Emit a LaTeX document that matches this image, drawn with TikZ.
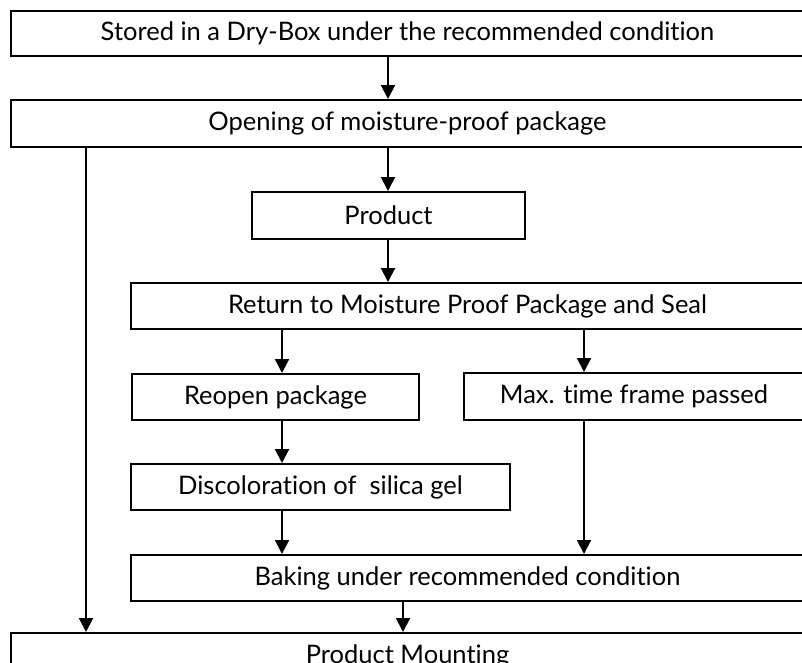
\documentclass[tikz,border=0pt]{standalone}
\usepackage{fontspec}
\setmainfont{Lato}[Ligatures=NoCommon]
\usetikzlibrary{arrows.meta}

\tikzset{
  flowbox/.style={draw, rectangle, line width=2pt, inner sep=0pt,
    anchor=north west, font=\fontsize{25.5}{30}\selectfont},
  flowline/.style={->, line width=2pt},
}

\begin{document}
\begin{tikzpicture}[x=1pt,y=-1pt,>={Triangle[width=14pt,length=14pt]}]
        \useasboundingbox (0,0) rectangle (802,662);
        \clip (0,0) rectangle (802,662);

        % the steps
        \node[flowbox, minimum width=793pt, minimum height=45pt] (stored) at (10,10) {Stored in a Dry-Box under the recommended condition};
        \node[flowbox, minimum width=793pt, minimum height=47pt] (opening) at (10,99) {Opening of moisture-proof package};
        \node[flowbox, minimum width=273pt, minimum height=47pt] (product) at (251,191) {Product};
        \node[flowbox, minimum width=673pt, minimum height=46pt] (return) at (130,282) {Return to Moisture Proof Package and Seal};
        \node[flowbox, minimum width=287pt, minimum height=46pt] (reopen) at (131,373) {Reopen package};
        \node[flowbox, minimum width=340pt, minimum height=47pt] (maxtime) at (463,372) {Max. time frame passed};
        \node[flowbox, minimum width=379pt, minimum height=46pt] (discolor) at (130,463) {Discoloration of~ silica gel};
        \node[flowbox, minimum width=673pt, minimum height=46pt] (baking) at (130,554) {Baking under recommended condition};
        \node[flowbox, minimum width=793pt, minimum height=46pt] (mounting) at (10,632) {Product Mounting};

        % lanes of the arrows
        \coordinate (outerlane) at (86,0);
        \coordinate (leftlane) at (282,0);
        \coordinate (midlane) at (388,0);
        \coordinate (bakelane) at (403,0);
        \coordinate (rightlane) at (584,0);

        \draw[flowline] (stored.south -| midlane) -- (opening.north -| midlane);
        \draw[flowline] (opening.south -| midlane) -- (product.north -| midlane);
        \draw[flowline] (product.south -| midlane) -- (return.north -| midlane);
        \draw[flowline] (return.south -| leftlane) -- (reopen.north -| leftlane);
        \draw[flowline] (return.south -| rightlane) -- (maxtime.north -| rightlane);
        \draw[flowline] (reopen.south -| leftlane) -- (discolor.north -| leftlane);
        \draw[flowline] (discolor.south -| leftlane) -- (baking.north -| leftlane);
        \draw[flowline] (maxtime.south -| rightlane) -- (baking.north -| rightlane);
        \draw[flowline] (baking.south -| bakelane) -- (mounting.north -| bakelane);
        \draw[flowline] (opening.south -| outerlane) -- (mounting.north -| outerlane);
    \end{tikzpicture}
\end{document}
